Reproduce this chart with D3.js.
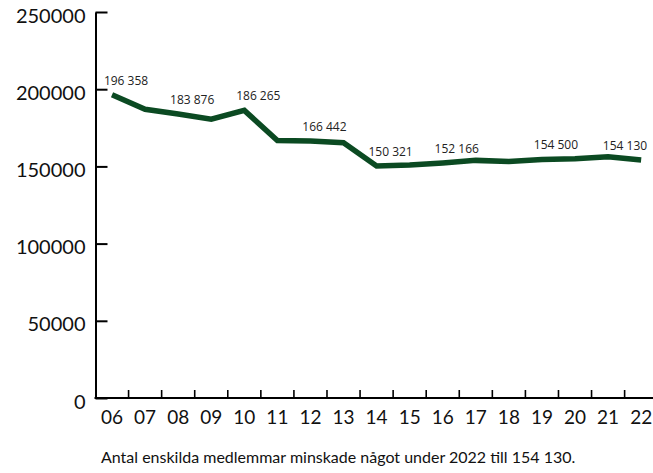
<!DOCTYPE html>
<html lang="sv">
<head>
<meta charset="utf-8">
<title>Medlemmar</title>
<script src="https://d3js.org/d3.v7.min.js"></script>
<style>
  body { margin: 0; background: #fff; }
  .axis text { font-family: Lato, sans-serif; fill: #111; }
  .axis path, .axis line { stroke: #000; }
</style>
</head>
<body>
<div id="chart"></div>
<script>
  var years = ["06","07","08","09","10","11","12","13","14","15","16","17","18","19","20","21","22"];
  var members = [196358, 187000, 183876, 180600, 186265, 166700, 166442, 165300, 150321,
                 150900, 152166, 153900, 153100, 154500, 154900, 156300, 154130];
  // which years get a value label
  var labelled = ["06","08","10","12","14","16","19","22"];
  var yTicks = [0, 50000, 100000, 150000, 200000, 250000];
  var caption = "Antal enskilda medlemmar minskade något under 2022 till 154 130.";

  var width = 653, height = 473;
  var m = {left: 95.5, top: 12, bottom: 75};

  var svg = d3.select("#chart").append("svg")
      .attr("width", width)
      .attr("height", height);

  var x = d3.scaleBand()
      .domain(years)
      .range([m.left, m.left + 33.07 * years.length]);

  var y = d3.scaleLinear()
      .domain([0, 250000])
      .range([height - m.bottom, m.top]);

  var data = years.map(function(d, i) { return {year: d, value: members[i]}; });

  // y axis, ticks pointing inward
  var yAxis = svg.append("g")
      .attr("class", "axis")
      .attr("transform", "translate(" + m.left + ",0)")
      .call(d3.axisLeft(y).tickValues(yTicks).tickSize(-12).tickSizeOuter(0).tickPadding(10)
        .tickFormat(function(d) { return String(d); }));
  yAxis.selectAll("text").attr("font-size", 20).attr("dy", "0.5em");
  yAxis.select(".domain").attr("stroke-width", 2);
  yAxis.selectAll(".tick line").attr("stroke-width", 2);

  // x axis: labels centred in bands, ticks on band edges
  var xAxis = svg.append("g")
      .attr("class", "axis")
      .attr("transform", "translate(0," + y(0) + ")")
      .call(d3.axisBottom(x).tickSize(0).tickPadding(13));
  xAxis.select(".domain").remove();
  xAxis.selectAll("text").attr("font-size", 19).attr("dy", "0.71em");

  xAxis.append("line")
      .attr("x1", m.left - 1)
      .attr("x2", width)
      .attr("stroke", "#000")
      .attr("stroke-width", 2);

  xAxis.selectAll(".edge")
      .data(years.slice(1))
      .enter().append("line")
      .attr("class", "edge")
      .attr("x1", function(d) { return x(d); })
      .attr("x2", function(d) { return x(d); })
      .attr("y1", 0)
      .attr("y2", -8)
      .attr("stroke", "#000")
      .attr("stroke-width", 1.6);

  var cx = function(d) { return x(d.year) + x.bandwidth() / 2; };

  var line = d3.line()
      .x(cx)
      .y(function(d) { return y(d.value); });

  svg.append("path")
      .datum(data)
      .attr("d", line)
      .attr("fill", "none")
      .attr("stroke", "#0b4a22")
      .attr("stroke-width", 5.5)
      .attr("stroke-linejoin", "miter");

  var fmt = function(v) { return d3.format(",")(v).replace(",", " "); };

  svg.append("g")
    .selectAll("text")
      .data(data.filter(function(d) { return labelled.indexOf(d.year) >= 0; }))
      .enter().append("text")
      .attr("font-family", "'Open Sans', sans-serif")
      .attr("font-size", 12)
      .attr("fill", "#222")
      .attr("text-anchor", "middle")
      .attr("x", function(d) { return Math.min(cx(d) + 14, width - 28); })
      .attr("y", function(d) { return y(d.value) - 10; })
      .text(function(d) { return fmt(d.value); });

  svg.append("text")
      .attr("x", 101)
      .attr("y", 463)
      .attr("font-family", "Lato, sans-serif")
      .attr("font-size", 16)
      .attr("fill", "#111")
      .text(caption);
</script>
</body>
</html>
